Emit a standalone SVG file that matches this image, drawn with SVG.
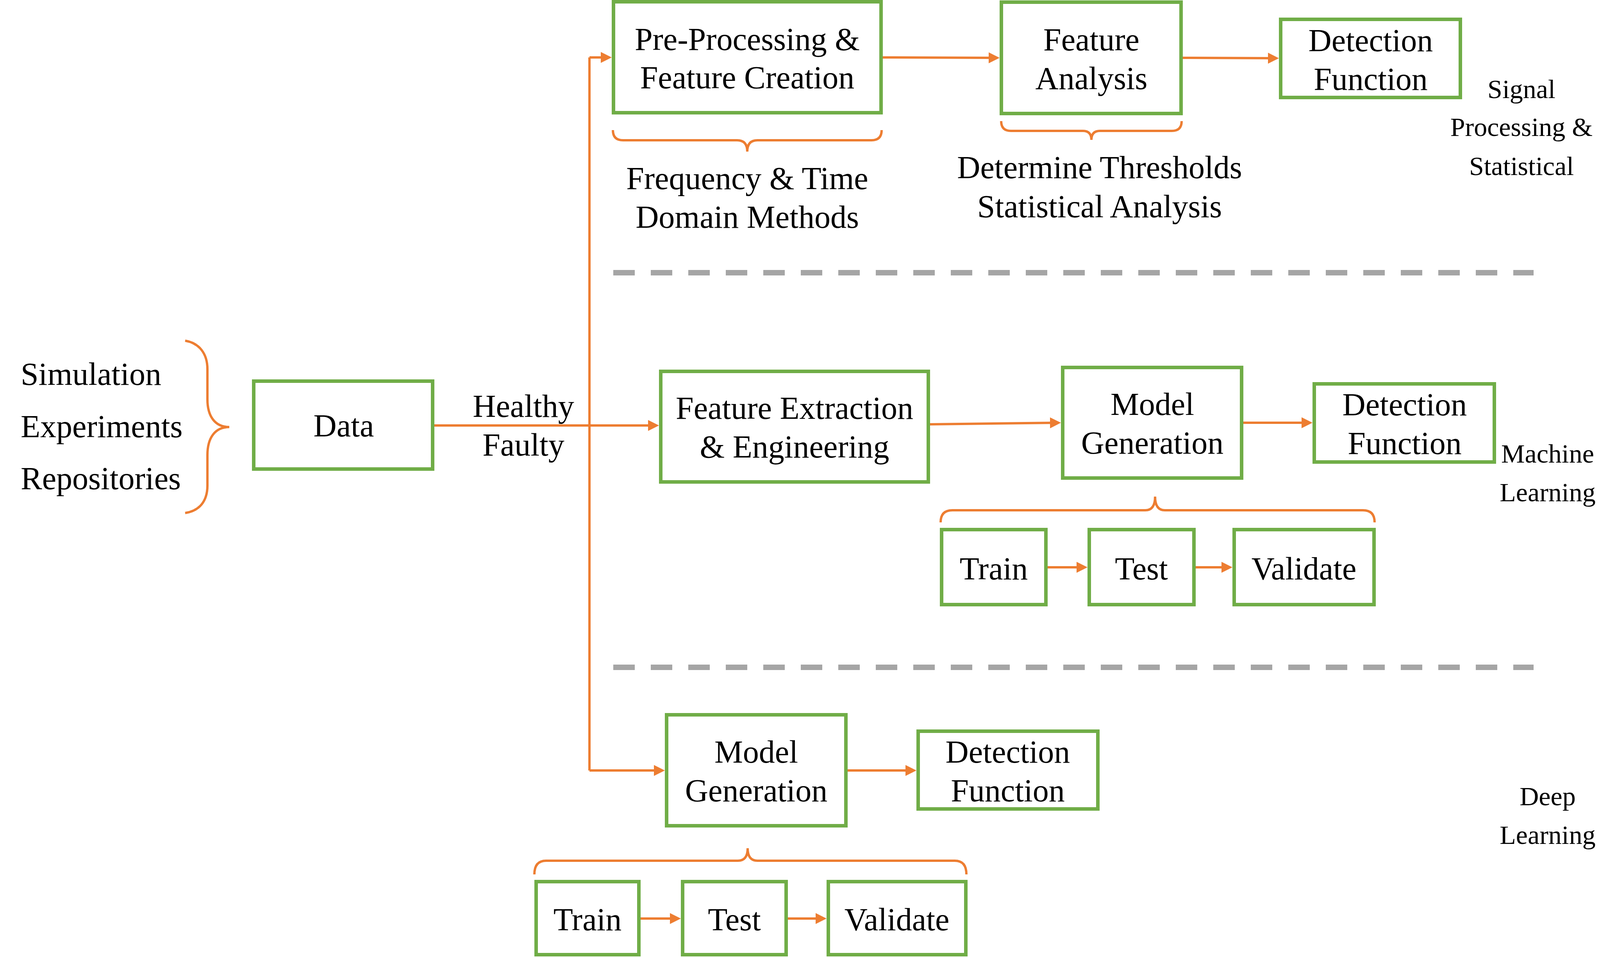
<svg xmlns="http://www.w3.org/2000/svg" width="4568" height="2452" viewBox="0 0 4568 2452">
<style>
.box{fill:#fff;stroke:#70AD47;stroke-width:9}
.t{font-family:"Liberation Serif","Times New Roman",serif;font-size:82px;fill:#000;text-anchor:middle}
.tl{font-family:"Liberation Serif","Times New Roman",serif;font-size:82px;fill:#000}
.lab{font-family:"Liberation Serif","Times New Roman",serif;font-size:68px;fill:#000;text-anchor:middle}
.c{fill:none;stroke:#ED7D31;stroke-width:6}
.br{fill:none;stroke:#ED7D31;stroke-width:6}
.dash{stroke:#A5A5A5;stroke-width:14;stroke-dasharray:55 41}
</style>
<defs>
<marker id="ah" markerUnits="userSpaceOnUse" markerWidth="28" markerHeight="28" refX="22" refY="14" orient="auto">
<path d="M0,0 L28,14 L0,28 z" fill="#ED7D31"/>
</marker>
</defs>
<rect width="4568" height="2452" fill="#fff"/>
<g id="separators">
<line class="dash" x1="1570" y1="698" x2="3926" y2="698"/>
<line class="dash" x1="1570" y1="1708" x2="3926" y2="1708"/>
</g>
<g id="connectors">
<path class="c" d="M1112,1089 L1509,1089"/>
<path class="c" d="M1509,147 L1509,1972"/>
<path class="c" d="M1509,147 L1560,147" marker-end="url(#ah)"/>
<path class="c" d="M1509,1089 L1681,1089" marker-end="url(#ah)"/>
<path class="c" d="M1509,1972 L1696,1972" marker-end="url(#ah)"/>
<path class="c" d="M2260,147 L2553,148" marker-end="url(#ah)"/>
<path class="c" d="M3028,148 L3268,149" marker-end="url(#ah)"/>
<path class="c" d="M2381,1086 L2710,1082" marker-end="url(#ah)"/>
<path class="c" d="M3183,1082 L3354,1082" marker-end="url(#ah)"/>
<path class="c" d="M2682,1452 L2778,1452" marker-end="url(#ah)"/>
<path class="c" d="M3061,1452 L3149,1452" marker-end="url(#ah)"/>
<path class="c" d="M2170,1972 L2340,1972" marker-end="url(#ah)"/>
<path class="c" d="M1640,2351 L1737,2351" marker-end="url(#ah)"/>
<path class="c" d="M2017,2351 L2110,2351" marker-end="url(#ah)"/>
</g>
<g id="braces">
<path class="br" d="M474,872 C510,878 531,905 531,945 L531,1022 C531,1065 550,1093 587,1093 C550,1093 531,1121 531,1165 L531,1243 C531,1283 510,1308 474,1313"/>
<path class="br" d="M1569,333 Q1569,359 1595,359 L1887,359 Q1913,359 1913,388 Q1913,359 1939,359 L2231,359 Q2257,359 2257,333"/>
<path class="br" d="M2563,310 Q2563,335 2588,335 L2772,335 Q2794,335 2794,358 Q2794,335 2816,335 L3000,335 Q3025,335 3025,310"/>
<path class="br" d="M2408,1337 Q2408,1306 2438,1306 L2932,1306 Q2957,1306 2957,1271 Q2957,1306 2982,1306 L3489,1306 Q3519,1306 3519,1337"/>
<path class="br" d="M1368,2238 Q1368,2203 1398,2203 L1889,2203 Q1914,2203 1914,2171 Q1914,2203 1939,2203 L2444,2203 Q2474,2203 2474,2238"/>
</g>
<g id="sources">
<text class="tl" x="53" y="985">Simulation</text>
<text class="tl" x="53" y="1119">Experiments</text>
<text class="tl" x="53" y="1252">Repositories</text>
</g>
<g id="data">
<rect class="box" x="649.5" y="975.5" width="458" height="225"/>
<text class="t" x="880" y="1117">Data</text>
</g>
<g id="healthy-faulty">
<text class="t" x="1340" y="1067">Healthy</text>
<text class="t" x="1340" y="1166">Faulty</text>
</g>
<g id="preprocessing">
<rect class="box" x="1570.5" y="4.5" width="685" height="284"/>
<text class="t" x="1913" y="128">Pre-Processing &amp;</text>
<text class="t" x="1913" y="226">Feature Creation</text>
</g>
<g id="freq-time">
<text class="t" x="1913" y="484">Frequency &amp; Time</text>
<text class="t" x="1913" y="583">Domain Methods</text>
</g>
<g id="feature-analysis">
<rect class="box" x="2563.5" y="5.5" width="460" height="285"/>
<text class="t" x="2794" y="129">Feature</text>
<text class="t" x="2794" y="228">Analysis</text>
</g>
<g id="thresholds">
<text class="t" x="2815" y="456">Determine Thresholds</text>
<text class="t" x="2815" y="556">Statistical Analysis</text>
</g>
<g id="detection-sp">
<rect class="box" x="3278.5" y="49.5" width="460" height="200"/>
<text class="t" x="3509" y="131">Detection</text>
<text class="t" x="3509" y="230">Function</text>
</g>
<g id="label-sp">
<text class="lab" x="3895" y="251">Signal</text>
<text class="lab" x="3895" y="348">Processing &amp;</text>
<text class="lab" x="3895" y="448">Statistical</text>
</g>
<g id="feature-extraction">
<rect class="box" x="1691.5" y="950.5" width="685" height="283"/>
<text class="t" x="2034" y="1072">Feature Extraction</text>
<text class="t" x="2034" y="1171">&amp; Engineering</text>
</g>
<g id="model-ml">
<rect class="box" x="2720.5" y="940.5" width="458" height="283"/>
<text class="t" x="2950" y="1062">Model</text>
<text class="t" x="2950" y="1161">Generation</text>
</g>
<g id="detection-ml">
<rect class="box" x="3364.5" y="982.5" width="461" height="200"/>
<text class="t" x="3596" y="1063">Detection</text>
<text class="t" x="3596" y="1162">Function</text>
</g>
<g id="train-ml">
<rect class="box" x="2410.5" y="1355.5" width="267" height="192"/>
<text class="t" x="2544" y="1483">Train</text>
</g>
<g id="test-ml">
<rect class="box" x="2788.5" y="1355.5" width="268" height="192"/>
<text class="t" x="2922" y="1483">Test</text>
</g>
<g id="validate-ml">
<rect class="box" x="3159.5" y="1355.5" width="358" height="192"/>
<text class="t" x="3338" y="1483">Validate</text>
</g>
<g id="label-ml">
<text class="lab" x="3962" y="1184">Machine</text>
<text class="lab" x="3962" y="1283">Learning</text>
</g>
<g id="model-dl">
<rect class="box" x="1706.5" y="1829.5" width="459" height="284"/>
<text class="t" x="1936" y="1952">Model</text>
<text class="t" x="1936" y="2051">Generation</text>
</g>
<g id="detection-dl">
<rect class="box" x="2350.5" y="1871.5" width="460" height="199"/>
<text class="t" x="2580" y="1952">Detection</text>
<text class="t" x="2580" y="2051">Function</text>
</g>
<g id="train-dl">
<rect class="box" x="1372.5" y="2256.5" width="263" height="187"/>
<text class="t" x="1504" y="2381">Train</text>
</g>
<g id="test-dl">
<rect class="box" x="1747.5" y="2256.5" width="265" height="187"/>
<text class="t" x="1880" y="2381">Test</text>
</g>
<g id="validate-dl">
<rect class="box" x="2120.5" y="2256.5" width="352" height="187"/>
<text class="t" x="2296" y="2381">Validate</text>
</g>
<g id="label-dl">
<text class="lab" x="3962" y="2061">Deep</text>
<text class="lab" x="3962" y="2160">Learning</text>
</g>
</svg>
